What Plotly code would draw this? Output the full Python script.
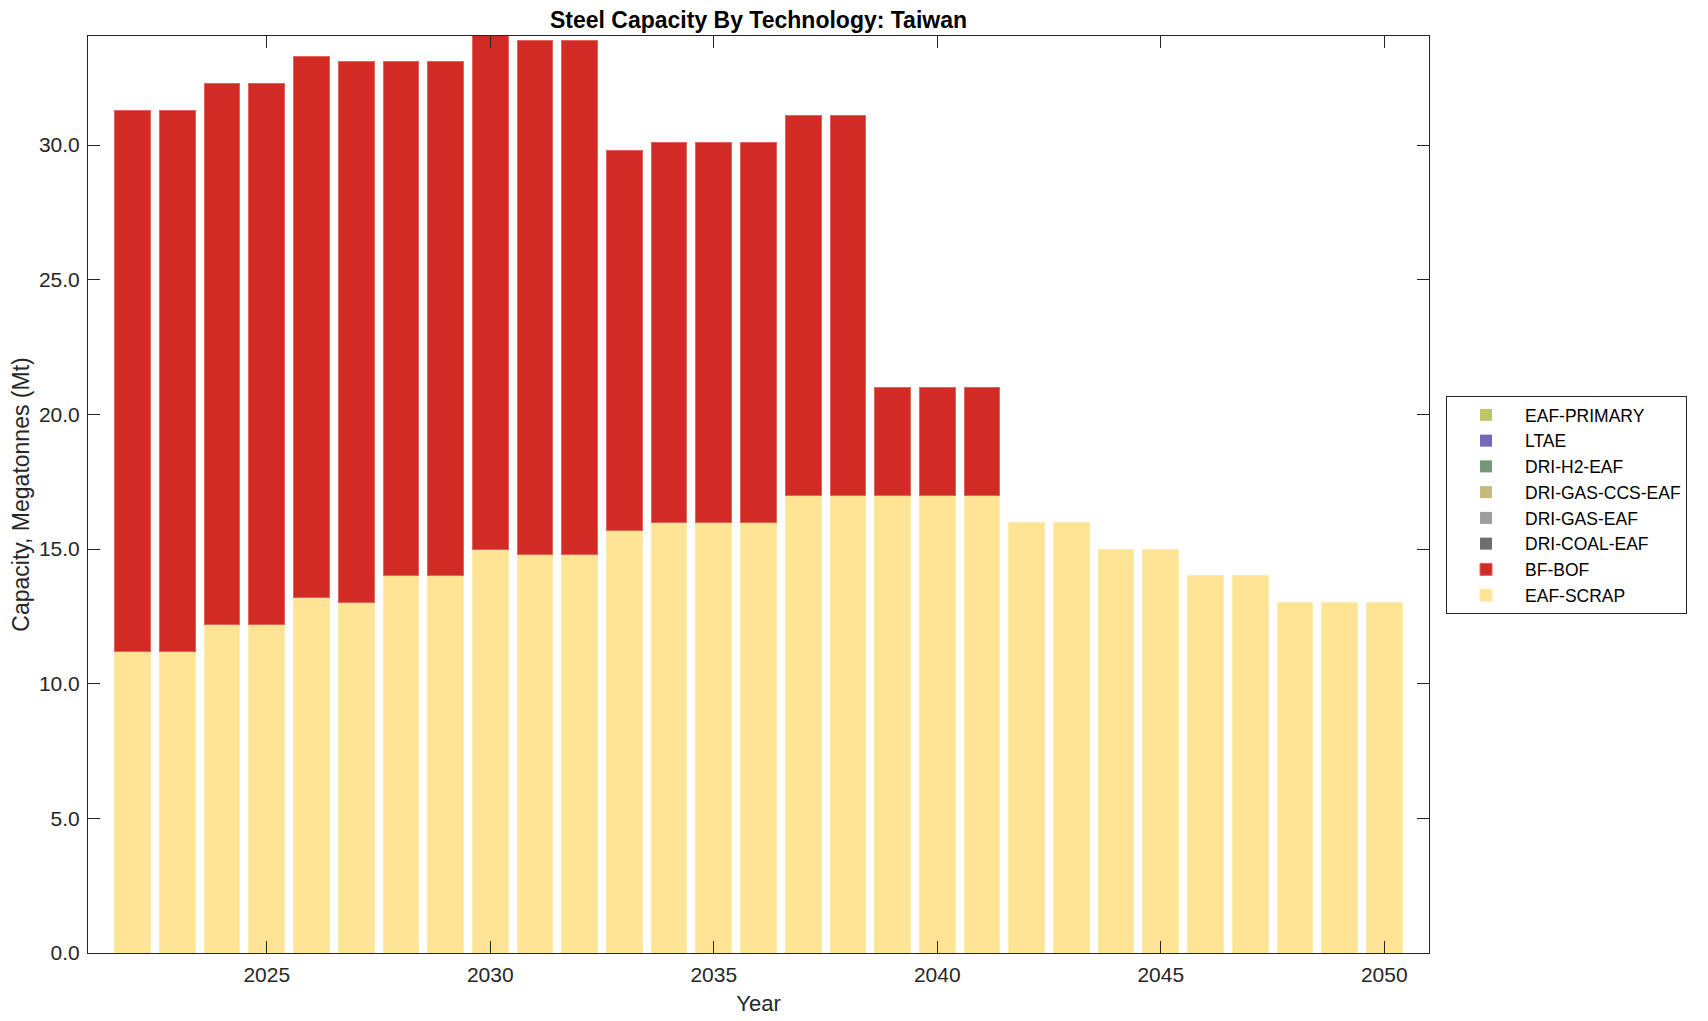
import plotly.graph_objects as go

years = list(range(2022, 2051))

eaf_scrap = [11.2, 11.2, 12.2, 12.2, 13.2, 13.0, 14.0, 14.0, 15.0, 14.8,
             14.8, 15.7, 16.0, 16.0, 16.0, 17.0, 17.0, 17.0, 17.0, 17.0,
             16.0, 16.0, 15.0, 15.0, 14.0, 14.0, 13.0, 13.0, 13.0]
bf_bof_total = [31.3, 31.3, 32.3, 32.3, 33.3, 33.1, 33.1, 33.1, 34.1, 33.9,
                33.9, 29.8, 30.1, 30.1, 30.1, 31.1, 31.1, 21.0, 21.0, 21.0,
                16.0, 16.0, 15.0, 15.0, 14.0, 14.0, 13.0, 13.0, 13.0]
bf_bof = [round(t - s, 2) for t, s in zip(bf_bof_total, eaf_scrap)]
zeros = [0.0] * len(years)

series_names = ["EAF-SCRAP", "BF-BOF", "DRI-COAL-EAF", "DRI-GAS-EAF",
                "DRI-GAS-CCS-EAF", "DRI-H2-EAF", "LTAE", "EAF-PRIMARY"]
series_values = [eaf_scrap, bf_bof, zeros, zeros, zeros, zeros, zeros, zeros]
series_colors = ["#FEE494", "#D22B25", "#6E6E6E", "#9E9E9E",
                 "#C6BB7D", "#72977A", "#7468B8", "#BDC76A"]
edge_colors = ["#FEEBB0", "#E06560", "#999999", "#BDBDBD",
               "#D9D1A5", "#A0BBA5", "#A39BD1", "#D4DB9C"]

fig = go.Figure()
for name, vals, col, ec in zip(series_names, series_values, series_colors, edge_colors):
    widths = [1 if v > 0 else 0 for v in vals]
    fig.add_trace(go.Bar(x=years, y=vals, name=name, width=0.8,
                         marker=dict(color=col, line=dict(color=ec, width=widths))))

axis_color = "#262626"
font_family = "Liberation Sans, Arial, Helvetica, sans-serif"

fig.update_layout(
    width=1700, height=1013,
    barmode="stack",
    plot_bgcolor="white", paper_bgcolor="white",
    margin=dict(l=80, r=279, t=28, b=68, autoexpand=False),
    font=dict(family=font_family, size=21, color=axis_color),
    title=dict(text="<b>Steel Capacity By Technology: Taiwan</b>",
               x=0.5, xref="paper", xanchor="center",
               y=1 - 11.5 / 1013, yref="container", yanchor="middle",
               font=dict(size=23, color="black", family=font_family)),
    legend=dict(traceorder="reversed", x=1.0127, xanchor="left",
                y=0.6074, yanchor="top", bgcolor="white",
                bordercolor=axis_color, borderwidth=1,
                font=dict(size=17.5, color="black"), tracegroupgap=0,
                itemwidth=68),
    showlegend=True,
)
fig.update_xaxes(range=[2021, 2051], tickvals=[2025, 2030, 2035, 2040, 2045, 2050],
                 ticks="inside", ticklen=12, tickcolor=axis_color,
                 showline=True, linecolor=axis_color, linewidth=1, mirror="ticks",
                 showgrid=False, zeroline=False, ticklabelstandoff=3, automargin=False,
                 title=dict(text="Year", standoff=10, font=dict(size=22)))
fig.update_yaxes(range=[0, 34.05], tick0=0, dtick=5, tickformat=".1f",
                 ticks="inside", ticklen=12, tickcolor=axis_color,
                 showline=True, linecolor=axis_color, linewidth=1, mirror="ticks",
                 showgrid=False, zeroline=False, ticklabelstandoff=3, automargin=False,
                 title=dict(text="Capacity, Megatonnes (Mt)", standoff=5, font=dict(size=23)))

fig.write_html("out.html")
